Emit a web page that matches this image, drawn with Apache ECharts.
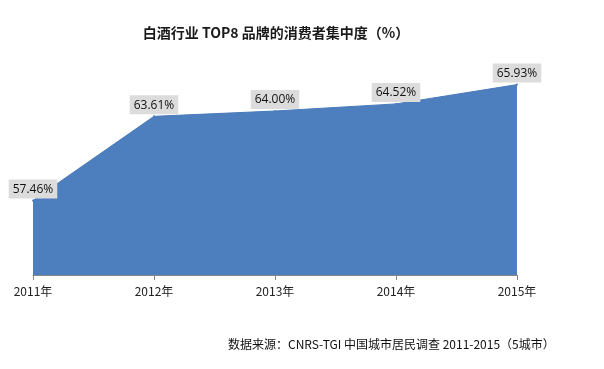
<!DOCTYPE html>
<html><head><meta charset="utf-8">
<script src="https://cdn.jsdelivr.net/npm/echarts@6/dist/echarts.min.js"></script>
<style>html,body{margin:0;padding:0;background:#fff}#c{width:604px;height:369px}</style>
</head><body><div id="c"></div>
<script>
const categories = ['2011年','2012年','2013年','2014年','2015年'];
const values = [57.46, 63.61, 64.00, 64.52, 65.93];
const titleText = '白酒行业 TOP8 品牌的消费者集中度（%）';
const sourceText = '数据来源：CNRS-TGI 中国城市居民调查 2011-2015（5城市）';

const chart = echarts.init(document.getElementById('c'));
chart.setOption({
  backgroundColor: '#ffffff',
  animation: false,
  title: [{
    text: titleText, left: 271, top: 21, textAlign: 'center',
    textStyle: {fontSize: 14, fontWeight: 'bold', color: '#1a1a1a', fontFamily: 'Noto Sans CJK SC'}
  }, {
    text: sourceText, left: 223, top: 333,
    textStyle: {fontSize: 12, fontWeight: 'normal', color: '#111', fontFamily: 'Noto Sans CJK SC'}
  }],
  grid: {left: 33, right: 87, top: 29, bottom: 94},
  xAxis: {
    type: 'category', data: categories, boundaryGap: false,
    axisLine: {show: true, lineStyle: {color: '#888'}},
    axisTick: {show: true, length: 5, lineStyle: {color: '#888'}},
    axisLabel: {color: '#222', fontSize: 12, margin: 10, fontFamily: 'Noto Sans CJK SC'}
  },
  yAxis: {type: 'value', min: 52, max: 70, show: false, splitLine: {show: false}},
  series: [{
    type: 'line', data: values, symbol: 'circle', symbolSize: 2, showSymbol: true,
    itemStyle: {color: '#4d7ebe', borderWidth: 0},
    lineStyle: {width: 1, color: '#4a7bba'},
    areaStyle: {color: '#4d7ebe', opacity: 1},
    labelLayout: {hideOverlap: false},
    label: {
      show: true, position: 'top', distance: 1,
      formatter: p => Number(p.value).toFixed(2) + '%',
      backgroundColor: '#dcdcdc', padding: [4, 4, 3, 4],
      color: '#111', fontSize: 12, fontFamily: 'Open Sans'
    }
  }]
});
</script></body></html>
